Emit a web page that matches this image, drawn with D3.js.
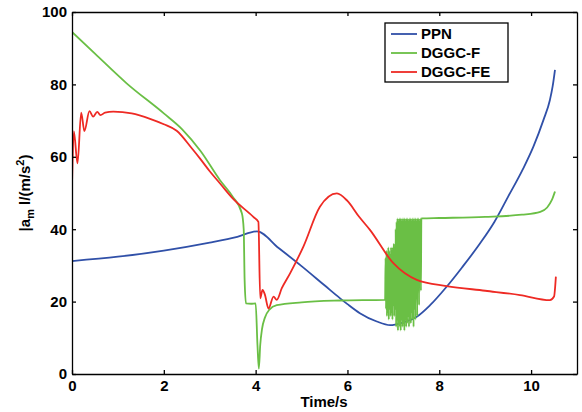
<!DOCTYPE html>
<html>
<head>
<meta charset="utf-8">
<script src="https://cdn.jsdelivr.net/npm/d3@7"></script>
<style>
  body { margin: 0; background: #fff; }
  svg text { font-family: "Liberation Sans", Arial, sans-serif; font-weight: bold; }
</style>
</head>
<body>
<svg id="chart" width="582" height="412"></svg>
<script>
// values
const xTicks = [0, 2, 4, 6, 8, 10];
const yTicks = [0, 20, 40, 60, 80, 100];
const seriesNames = ["PPN", "DGGC-F", "DGGC-FE"];
const seriesColors = ["#3050a8", "#6abf45", "#ee2a24"];

const ppnTime  = [0, 1, 2, 3, 3.6, 4.03, 4.5, 5, 5.5, 5.84, 6.0, 6.27, 6.64, 6.93, 7.2, 7.51, 7.8, 8.16, 8.5, 8.89, 9.2, 9.5, 9.83, 10.05, 10.27, 10.41, 10.47, 10.52];
const ppnValue = [31.2, 32.4, 34.1, 36.3, 37.9, 39.4, 34.8, 29.8, 24.5, 20.9, 19.3, 16.8, 14.5, 13.5, 14.2, 15.8, 19, 24.1, 29.5, 36.1, 42, 49, 56.8, 62.8, 70.2, 75.7, 79.5, 84];

// DGGC-F, with the chattering band between 6.82 s and 7.62 s
const fTime  = [0, 0.5, 1.19, 2, 2.4, 2.8, 3.22, 3.5, 3.7, 3.74, 3.76, 3.79, 3.9, 4.0, 4.04, 4.07, 4.1, 4.14, 4.2, 4.3, 4.46, 5, 5.84, 6.82,
  6.83, 6.84, 6.85, 6.86, 6.87, 6.88, 6.89, 6.9, 6.91, 6.92, 6.93, 6.94, 6.95, 6.96, 6.97, 6.98, 6.99, 7.0, 7.01, 7.02, 7.03, 7.04,
  7.05, 7.06, 7.07, 7.08, 7.09, 7.1, 7.11, 7.12, 7.13, 7.14, 7.15, 7.16, 7.17, 7.18, 7.19, 7.2, 7.21, 7.22, 7.23, 7.24, 7.25,
  7.26, 7.27, 7.28, 7.29, 7.3, 7.31, 7.32, 7.33, 7.34, 7.35, 7.36, 7.37, 7.38, 7.39, 7.4, 7.41, 7.42, 7.43, 7.44, 7.45,
  7.46, 7.47, 7.48, 7.49, 7.5, 7.51, 7.52, 7.53, 7.54, 7.55, 7.56, 7.57, 7.58, 7.59, 7.6, 7.61, 7.62,
  8, 9, 9.8, 10.2, 10.35, 10.45, 10.52];
const fValue = [94.5, 88.5, 80.3, 72, 67.6, 61.6, 53.6, 49, 44.4, 40, 26, 19.5, 19.4, 19.5, 8, 1.5, 8, 12.5, 15.5, 17.8, 19, 19.8, 20.3, 20.5,
  32, 18, 34, 16, 33, 17, 35, 15, 34, 18, 33, 16, 35, 17, 34, 15, 35, 19, 36, 16, 35, 18,
  40, 13, 42, 15, 43, 12, 42, 14, 43, 13, 43, 12, 42, 15, 43, 13, 42, 14, 43, 12, 43,
  15, 42, 13, 43, 14, 43, 16, 42, 13, 43, 15, 43, 14, 42, 17, 43, 15, 43, 13, 42,
  18, 43, 15, 43, 22, 42, 16, 43, 25, 43, 19, 42, 28, 43, 23, 43, 43,
  43.1, 43.4, 44, 44.8, 46, 48, 50.4];

const feTime  = [0, 0.04, 0.12, 0.2, 0.27, 0.38, 0.46, 0.55, 0.62, 0.72, 0.9, 1.3, 1.7, 2.0, 2.28, 2.6, 2.79, 3.0, 3.22, 3.5, 3.95, 4.06, 4.1, 4.15, 4.2, 4.28, 4.39, 4.46, 4.57, 4.75, 5.04, 5.4, 5.77, 6.0, 6.25, 6.49, 7.0, 7.51, 8.16, 9.0, 9.76, 10.41, 10.5, 10.54];
const feValue = [52.2, 67, 58.2, 72.2, 67.1, 72.6, 71.1, 72.4, 71.5, 72.2, 72.5, 72, 70.5, 69, 67.2, 62.5, 59.5, 56, 52.7, 48.5, 43.4, 42, 20.9, 23.2, 22, 18.1, 21.4, 20.5, 23.7, 27.8, 35.2, 46.2, 49.9, 47.8, 43.5, 39.8, 30.6, 26, 24.3, 23, 21.8, 20.4, 21.4, 26.9];

const seriesTimes = [ppnTime, fTime, feTime];
const seriesValues = [ppnValue, fValue, feValue];

const svg = d3.select("#chart");
const x = d3.scaleLinear().domain([0, 11]).range([72, 577]);
const y = d3.scaleLinear().domain([0, 100]).range([374, 12]);

// series lines
const line = d3.line().x(d => x(d[0])).y(d => y(d[1])).curve(d3.curveMonotoneX);
svg.append("clipPath").attr("id", "clip").append("rect")
  .attr("x", 72).attr("y", 12).attr("width", 505).attr("height", 362);
seriesNames.forEach((name, i) => {
  const pts = seriesTimes[i].map((t, j) => [t, seriesValues[i][j]]);
  svg.append("path")
    .attr("d", line(pts))
    .attr("fill", "none")
    .attr("stroke", seriesColors[i])
    .attr("stroke-width", 1.8)
    .attr("stroke-linejoin", "round")
    .attr("clip-path", "url(#clip)");
});

// axes, matlab style: ticks inside, box all round
const tickLen = 4;
svg.append("g").attr("transform", "translate(0,374)")
  .call(d3.axisBottom(x).tickValues(xTicks).tickSizeInner(-tickLen).tickSizeOuter(0).tickPadding(6))
  .call(g => g.selectAll("text").attr("font-size", 15).attr("fill", "#000"));
svg.append("g").attr("transform", "translate(0,12)")
  .call(d3.axisTop(x).tickValues(xTicks).tickSizeInner(-tickLen).tickSizeOuter(0).tickFormat(""));
svg.append("g").attr("transform", "translate(72,0)")
  .call(d3.axisLeft(y).tickValues(yTicks).tickSizeInner(-tickLen).tickSizeOuter(0).tickPadding(5))
  .call(g => g.selectAll("text").attr("font-size", 15).attr("fill", "#000"));
svg.append("g").attr("transform", "translate(577,0)")
  .call(d3.axisRight(y).tickValues(yTicks).tickSizeInner(-tickLen).tickSizeOuter(0).tickFormat(""));
svg.selectAll(".domain, .tick line").attr("stroke", "#000").attr("stroke-width", 1.3);

// axis titles
svg.append("text")
  .attr("x", 324).attr("y", 407)
  .attr("text-anchor", "middle")
  .attr("font-size", 15)
  .text("Time/s");

const yTitle = svg.append("text")
  .attr("transform", "translate(30,193) rotate(-90)")
  .attr("text-anchor", "middle")
  .attr("font-size", 15);
yTitle.append("tspan").text("|a");
yTitle.append("tspan").attr("dy", 4).attr("font-size", 11).text("m");
yTitle.append("tspan").attr("dy", -4).text(" l/(m/s");
yTitle.append("tspan").attr("dy", -6).attr("font-size", 11).text("2");
yTitle.append("tspan").attr("dy", 6).text(")");

// legend
const legend = svg.append("g");
legend.append("rect")
  .attr("x", 385).attr("y", 23).attr("width", 123).attr("height", 59)
  .attr("fill", "#fff").attr("stroke", "#000").attr("stroke-width", 1.3);
seriesNames.forEach((name, i) => {
  const cy = 34 + i * 19;
  legend.append("line")
    .attr("x1", 391).attr("x2", 417).attr("y1", cy).attr("y2", cy)
    .attr("stroke", seriesColors[i]).attr("stroke-width", 1.8);
  legend.append("text")
    .attr("x", 421).attr("y", cy + 5)
    .attr("font-size", 15)
    .text(name);
});
</script>
</body>
</html>
